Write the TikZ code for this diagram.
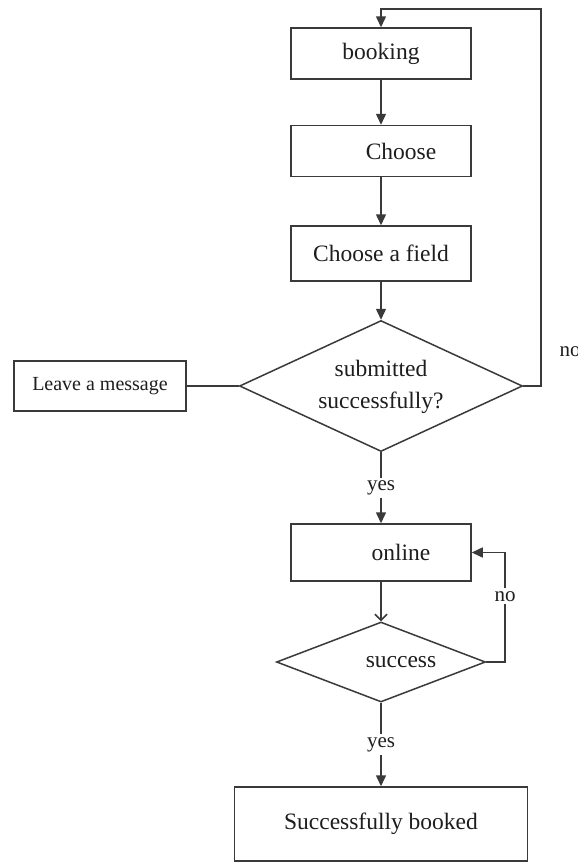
\documentclass[tikz,border=0pt]{standalone}
\usepackage{fontspec}
\setmainfont{Liberation Serif}
\usetikzlibrary{shapes.geometric,arrows.meta}
\definecolor{linec}{HTML}{3A3A3A}
\definecolor{textc}{HTML}{1E1E1E}
\newcommand{\flowmain}{\fontsize{11.75}{16}\selectfont}
\newcommand{\flowleave}{\fontsize{10}{12}\selectfont}
\newcommand{\flowsmall}{\fontsize{10.5}{12}\selectfont}
\begin{document}
\begin{tikzpicture}[x=0.5pt,y=-0.5pt,
  box/.style={draw=linec, line width=0.75pt, rectangle, minimum width=90pt,
    minimum height=25.5pt, inner sep=0pt, font=\flowmain, text=textc},
  dec/.style={draw=linec, line width=0.75pt, diamond, inner sep=0pt,
    font=\flowmain, text=textc, align=center},
  conn/.style={draw=linec, line width=0.75pt},
  arr/.style={conn, -{Triangle[length=5.5pt,width=5pt]}},
  openarr/.style={conn, -{Straight Barb[length=3pt,width=6pt]}},
  lbl/.style={fill=white, inner sep=1.5pt, font=\flowsmall, text=textc}
]
\useasboundingbox (0,0) rectangle (578,863);
\fill[white] (0,0) rectangle (578,863);

\node[box] (booking) at (381,53.5) {booking};
\node[box] (choose) at (381,151) {\hspace*{20pt}Choose};
\node[box, minimum height=27.5pt] (field) at (381,253.5) {Choose a field};
\node[dec, minimum width=141.5pt, minimum height=65.5pt, aspect=2.16] (sub) at (381,386)
  {\raisebox{-4pt}{\begin{tabular}{@{}c@{}}submitted\\successfully?\end{tabular}}};
\node[box, minimum width=86pt, minimum height=25pt, font=\flowleave] (leave) at (100,386) {Leave a message};
\node[box, minimum height=28.5pt] (online) at (381,552.5) {\hspace*{20pt}online};
\node[dec, minimum width=104.5pt, minimum height=40pt, aspect=2.6] (succ) at (381,662) {\hspace*{20pt}success};
\node[box, minimum width=146.5pt, minimum height=37pt] (final) at (381,824) {Successfully booked};

\coordinate (loopR) at (541,9);
\coordinate (rb) at (505,662);
\coordinate (rt) at (505,552.5);
\node[font=\flowsmall, text=textc, inner sep=0pt] (no1) at (570,352) {no};

\draw[arr] (sub.east) -| (loopR) -| (booking.north);
\draw[arr] (booking) -- (choose);
\draw[arr] (choose) -- (field);
\draw[arr] (field) -- (sub);
\draw[conn] (leave) -- (sub);
\draw[arr] (sub) -- node[lbl]{yes} (online);
\draw[openarr] (online) -- (succ);
\draw[arr] (succ.east) -- (rb) -- node[lbl, pos=0.6]{no} (rt) -- (online.east);
\draw[arr] (succ) -- node[lbl]{yes} (final);
\end{tikzpicture}
\end{document}
